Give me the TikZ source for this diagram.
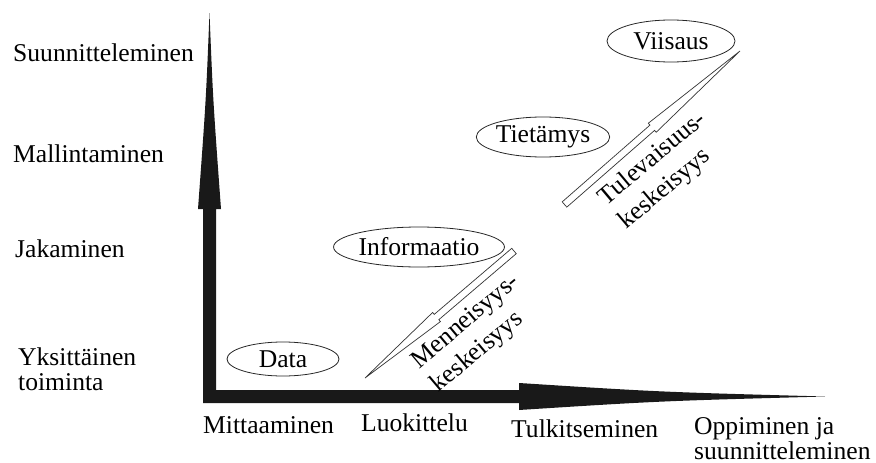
\documentclass[tikz,border=0pt]{standalone}
\usepackage{fontspec}
\setmainfont{Liberation Serif}
\usetikzlibrary{shapes.geometric,calc}
\begin{document}
\begin{tikzpicture}[x=1pt,y=-1pt,
  lbl/.style={anchor=base west,inner sep=0pt,align=left,font=\fontsize{25.6}{25}\selectfont},
  oval/.style={ellipse,draw=black!85,line width=0.8pt,inner sep=0pt,font=\fontsize{25.6}{26}\selectfont},
  hollow/.style={draw=black!80,line width=0.7pt,fill=white,line join=miter},
  rot/.style={rotate=40,align=left,inner sep=0pt,font=\fontsize{25.6}{31}\selectfont}
]
\useasboundingbox (0,0) rectangle (876,463);

% axes
\fill[black!90] (203,403) -- (203,209) -- (198,209) .. controls (206,100) .. (209.5,13)
  .. controls (213,100) .. (221,209) -- (216,209)
  -- (216,390) -- (519,390) -- (519,383) .. controls (660,392) .. (825,396.5)
  .. controls (660,401) .. (519,410) -- (519,403) -- cycle;

% left labels
\node[lbl] (suun) at (13,61) {Suunnitteleminen};
\node[lbl] (mall) at (13,162) {Mallintaminen};
\node[lbl] (jaka) at (15,257) {Jakaminen};
\node[lbl] (yksi) at (18,390) {Yksittäinen\\toiminta};

% bottom labels
\node[lbl] (mitt) at (203,433) {Mittaaminen};
\node[lbl] (luok) at (361,431) {Luokittelu};
\node[lbl] (tulk) at (511,437) {Tulkitseminen};
\node[lbl] (oppi) at (694,459) {Oppiminen ja\\suunnitteleminen};

% ellipses
\node[oval,minimum width=112pt,minimum height=34pt] (data) at (283,359) {Data};
\node[oval,minimum width=128pt,minimum height=40pt] (info) at (419,247) {Informaatio};
\node[oval,minimum width=122pt,minimum height=40pt] (tieto) at (543,137) {Tietämys};
\node[oval,minimum width=128pt,minimum height=42pt] (viis) at (671,41) {Viisaus};

% hollow arrow: menneisyyskeskeisyys
\coordinate (mtail) at (514,251);
\coordinate (mtip) at (365,378);
\coordinate (mstep) at ($(mtail)!0.52!(mtip)$);
\draw[hollow] ($(mtail)!3.5pt!90:(mtip)$) -- ($(mstep)!3.5pt!90:(mtip)$) -- ($(mstep)!6pt!90:(mtip)$)
  -- (mtip) -- ($(mstep)!6pt!-90:(mtip)$) -- ($(mstep)!3.5pt!-90:(mtip)$) -- ($(mtail)!3.5pt!-90:(mtip)$) -- cycle;

% hollow arrow: tulevaisuuskeskeisyys
\coordinate (ttail) at (564.5,204.5);
\coordinate (ttip) at (740,51);
\coordinate (tstep) at ($(ttail)!0.5!(ttip)$);
\draw[hollow] ($(ttail)!3.5pt!90:(ttip)$) -- ($(tstep)!3.5pt!90:(ttip)$) -- ($(tstep)!6pt!90:(ttip)$)
  -- (ttip) -- ($(tstep)!6pt!-90:(ttip)$) -- ($(tstep)!3.5pt!-90:(ttip)$) -- ($(ttail)!3.5pt!-90:(ttip)$) -- cycle;

% rotated texts
\node[rot] (mtext) at (476,334) {Menneisyys-\\keskeisyys};
\node[rot] (ttext) at (663,171) {Tulevaisuus-\\keskeisyys};
\end{tikzpicture}
\end{document}
